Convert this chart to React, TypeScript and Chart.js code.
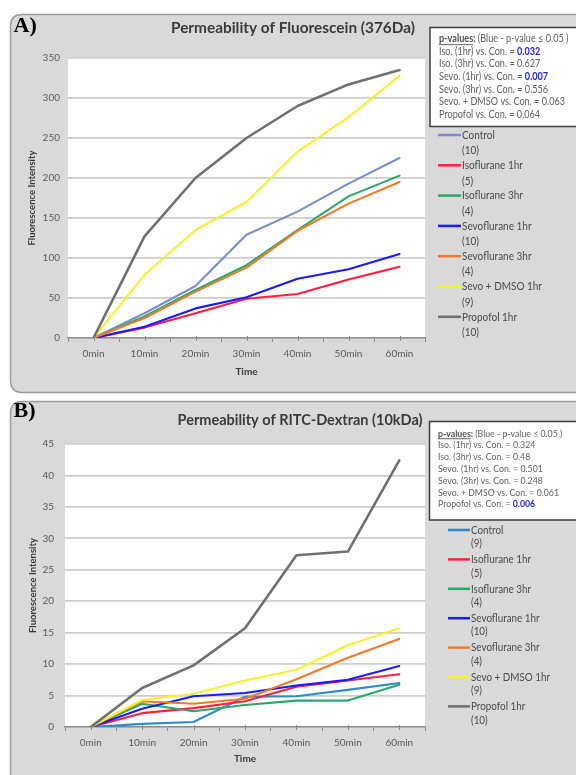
import React, { useEffect, useRef } from 'react';
import { Chart, registerables } from 'chart.js';

Chart.register(...registerables);

const FONT = 'Lato, "Open Sans", "Noto Sans", sans-serif';

// ---------- data ----------
const timeLabels = ['0min', '10min', '20min', '30min', '40min', '50min', '60min'];

const seriesNames = ['Control', 'Isoflurane 1hr', 'Isoflurane 3hr', 'Sevoflurane 1hr', 'Sevoflurane 3hr', 'Sevo + DMSO 1hr', 'Propofol 1hr'];

// Panel A: Fluorescein (376Da)
const fluoControl = [0, 31, 65, 129, 158, 193, 225];
const fluoIso1 = [0, 13, 31, 49, 55, 73, 89];
const fluoIso3 = [0, 27, 60, 91, 135, 177, 203];
const fluoSevo1 = [0, 14, 37, 51, 74, 86, 105];
const fluoSevo3 = [0, 25, 58, 88, 134, 168, 195];
const fluoDmso = [0, 79, 135, 170, 233, 276, 328];
const fluoPropofol = [0, 127, 200, 250, 290, 317, 335];
const fluoCounts = ['(10)', '(5)', '(4)', '(10)', '(4)', '(9)', '(10)'];
const fluoPValues = ['0.032', '0.627', '0.007', '0.556', '0.063', '0.064'];
const fluoSignificant = [true, false, true, false, false, false];

// Panel B: RITC-Dextran (10kDa)
const dexControl = [0, 0.5, 0.8, 4.8, 4.9, 5.9, 7.0];
const dexIso1 = [0, 2.2, 3.0, 4.1, 6.4, 7.4, 8.4];
const dexIso3 = [0, 3.7, 2.5, 3.5, 4.2, 4.2, 6.7];
const dexSevo1 = [0, 2.9, 4.9, 5.4, 6.6, 7.5, 9.7];
const dexSevo3 = [0, 4.1, 3.7, 4.5, 7.6, 11.0, 14.0];
const dexDmso = [0, 4.3, 5.3, 7.4, 9.1, 13.0, 15.7];
const dexPropofol = [0, 6.2, 9.8, 15.7, 27.3, 27.9, 42.4];
const dexCounts = ['(9)', '(5)', '(4)', '(10)', '(4)', '(9)', '(10)'];
const dexPValues = ['0.324', '0.48', '0.501', '0.248', '0.061', '0.006'];
const dexSignificant = [false, false, false, false, false, true];

const comparisonLabels = [
  'Iso. (1hr) vs. Con. = ',
  'Iso. (3hr) vs. Con. = ',
  'Sevo. (1hr) vs. Con. = ',
  'Sevo. (3hr) vs. Con. = ',
  'Sevo. + DMSO vs. Con. = ',
  'Propofol vs. Con. = ',
];

const colorsA = ['#7a8fc8', '#ff1f3d', '#2aa86a', '#1a1aff', '#f07a28', '#f2f230', '#707070'];
const colorsB = ['#2f8acb', '#ff1f3d', '#2aa86a', '#1a1aff', '#f07a28', '#f2f230', '#707070'];

// ---------- helpers ----------
function roundRect(ctx: CanvasRenderingContext2D, x: number, y: number, w: number, h: number, r: number) {
  ctx.beginPath();
  ctx.moveTo(x + r, y);
  ctx.lineTo(x + w - r, y);
  ctx.quadraticCurveTo(x + w, y, x + w, y + r);
  ctx.lineTo(x + w, y + h - r);
  ctx.quadraticCurveTo(x + w, y + h, x + w - r, y + h);
  ctx.lineTo(x + r, y + h);
  ctx.quadraticCurveTo(x, y + h, x, y + h - r);
  ctx.lineTo(x, y + r);
  ctx.quadraticCurveTo(x, y, x + r, y);
  ctx.closePath();
}

type Spec = {
  tag: string;
  tagY: number;
  title: string;
  titleX: number;
  titleY: number;
  titleWidth: number;
  panel: { x: number; y: number; w: number; h: number };
  pbox: { x: number; y: number; w: number; h: number; textX: number; firstY: number; step: number; fitWidth: number; size: number };
  pvals: string[];
  sig: boolean[];
  legend: { lineX: number; textX: number; firstY: number; gap: number; step: number; fitWidth: number };
  counts: string[];
  colors: string[];
};

function makeDecor(spec: Spec) {
  return {
    id: 'decor',
    beforeDraw(chart: any) {
      const ctx: CanvasRenderingContext2D = chart.ctx;
      const ca = chart.chartArea;
      ctx.save();
      const p = spec.panel;
      roundRect(ctx, p.x, p.y, p.w, p.h, 12);
      ctx.fillStyle = '#d9d9d9';
      ctx.fill();
      ctx.lineWidth = 1.5;
      ctx.strokeStyle = '#9a9a9a';
      ctx.stroke();
      ctx.fillStyle = '#ffffff';
      ctx.fillRect(ca.left, ca.top, ca.right - ca.left, ca.bottom - ca.top);
      ctx.restore();
    },
    afterDraw(chart: any) {
      const ctx: CanvasRenderingContext2D = chart.ctx;
      const ca = chart.chartArea;
      ctx.save();
      // minor ticks at category centres
      const xs = chart.scales.x;
      ctx.strokeStyle = '#8c8c8c';
      ctx.lineWidth = 1;
      for (let i = 0; i < timeLabels.length; i++) {
        const px = Math.round(xs.getPixelForValue(i)) + 0.5;
        ctx.beginPath();
        ctx.moveTo(px, ca.bottom - 2);
        ctx.lineTo(px, ca.bottom + 3);
        ctx.stroke();
      }
      // panel tag
      ctx.fillStyle = '#000000';
      ctx.font = 'bold 22px "Liberation Serif", "Times New Roman", serif';
      ctx.textAlign = 'left';
      ctx.textBaseline = 'middle';
      ctx.fillText(spec.tag, spec.panel.x + 3, spec.tagY);
      // title (compressed horizontally to reference width)
      ctx.font = `bold 15.5px ${FONT}`;
      const tw = ctx.measureText(spec.title).width;
      ctx.save();
      ctx.translate(spec.titleX, spec.titleY);
      ctx.scale(spec.titleWidth / tw, 1);
      ctx.fillStyle = '#3a3a3a';
      ctx.textAlign = 'center';
      ctx.fillText(spec.title, 0, 0);
      ctx.restore();
      // p-value box
      const b = spec.pbox;
      ctx.fillStyle = '#ffffff';
      ctx.fillRect(b.x, b.y, b.w, b.h);
      ctx.strokeStyle = '#3c3c3c';
      ctx.lineWidth = 1.5;
      ctx.strokeRect(b.x, b.y, b.w, b.h);
      const fs = b.size;
      const normal = `${fs}px ${FONT}`;
      const bold = `bold ${fs}px ${FONT}`;
      ctx.font = normal;
      const sx = b.fitWidth / ctx.measureText('Sevo. + DMSO vs. Con. = 0.063').width;
      ctx.textAlign = 'left';
      ctx.textBaseline = 'middle';
      // header
      ctx.save();
      ctx.translate(b.textX, b.firstY);
      ctx.scale(sx, 1);
      let x = 0;
      ctx.font = bold;
      ctx.fillStyle = '#505050';
      ctx.fillText('p-values:', x, 0);
      const hw = ctx.measureText('p-values').width;
      ctx.fillRect(x, fs * 0.5, hw, 0.9);
      x += ctx.measureText('p-values:').width;
      ctx.font = normal;
      ctx.fillStyle = '#606060';
      ctx.fillText(' (Blue - p-value \u2264 0.05 )', x, 0);
      ctx.restore();
      for (let i = 0; i < comparisonLabels.length; i++) {
        ctx.save();
        ctx.translate(b.textX, b.firstY + (i + 1) * b.step);
        ctx.scale(sx, 1);
        ctx.font = normal;
        ctx.fillStyle = '#606060';
        ctx.fillText(comparisonLabels[i], 0, 0);
        const off = ctx.measureText(comparisonLabels[i]).width;
        if (spec.sig[i]) {
          ctx.font = bold;
          ctx.fillStyle = '#2424d0';
        }
        ctx.fillText(spec.pvals[i], off, 0);
        ctx.restore();
      }
      // legend
      const L = spec.legend;
      ctx.font = `11.5px ${FONT}`;
      const lsx = L.fitWidth / ctx.measureText('Sevo + DMSO 1hr').width;
      for (let i = 0; i < seriesNames.length; i++) {
        const ly = L.firstY + i * L.step;
        ctx.strokeStyle = spec.colors[i];
        ctx.lineWidth = 2.5;
        ctx.beginPath();
        ctx.moveTo(L.lineX, ly);
        ctx.lineTo(L.textX - 1, ly);
        ctx.stroke();
        ctx.save();
        ctx.translate(L.textX, ly);
        ctx.scale(lsx, 1);
        ctx.fillStyle = '#4a4a4a';
        ctx.fillText(seriesNames[i], 0, 0);
        ctx.fillText(spec.counts[i], 0, L.gap);
        ctx.restore();
      }
      ctx.restore();
    },
  };
}

type ChartSpec = {
  height: number;
  values: number[][];
  colors: string[];
  yMax: number;
  yStep: number;
  padTop: number;
  padBottom: number;
  padLeft: number;
  padRight: number;
  yWidth: number;
  xHeight: number;
  yTickPad: number;
  yTitlePad: number;
  xTitlePad: number;
  decor: Spec;
};

function PanelChart({ spec }: { spec: ChartSpec }) {
  const ref = useRef<HTMLCanvasElement | null>(null);
  useEffect(() => {
    if (!ref.current) return;
    const n = spec.values.length;
    const chart = new Chart(ref.current, {
      type: 'line',
      data: {
        labels: timeLabels,
        datasets: spec.values.map((v, i) => ({
          label: seriesNames[i],
          data: v,
          borderColor: spec.colors[i],
          backgroundColor: spec.colors[i],
          borderWidth: i === n - 1 ? 2.6 : 2.1,
          pointRadius: 0,
          tension: 0,
          fill: false,
          order: n - i,
          borderJoinStyle: 'round',
          borderCapStyle: 'round',
        })),
      },
      options: {
        responsive: false,
        animation: false,
        devicePixelRatio: 1,
        events: [],
        layout: { padding: { top: spec.padTop, bottom: spec.padBottom, left: spec.padLeft, right: spec.padRight } },
        plugins: { legend: { display: false }, tooltip: { enabled: false }, title: { display: false } },
        scales: {
          x: {
            offset: true,
            grid: { offset: true, drawOnChartArea: false, drawTicks: true, tickLength: 4, color: '#8c8c8c', lineWidth: 1 },
            border: { display: true, color: '#8c8c8c', width: 1.5 },
            ticks: { color: '#5a5a5a', font: { family: FONT, size: 10 }, padding: 6, maxRotation: 0, autoSkip: false },
            title: { display: true, text: 'Time', color: '#3a3a3a', font: { family: FONT, size: 10, weight: 'bold' }, padding: { top: 0, bottom: spec.xTitlePad } },
            afterFit: (s: any) => { s.height = spec.xHeight; },
          },
          y: {
            min: 0,
            max: spec.yMax,
            ticks: { stepSize: spec.yStep, color: '#5a5a5a', font: { family: FONT, size: 10 }, padding: spec.yTickPad },
            grid: { color: '#cdcdcd', lineWidth: 1.8, drawTicks: false },
            border: { display: false },
            title: { display: true, text: 'Fluorescence Intensity', color: '#3a3a3a', font: { family: FONT, size: 9.5, weight: 'bold' }, padding: { top: spec.yTitlePad, bottom: 0 } },
            afterFit: (s: any) => { s.width = spec.yWidth; },
          },
        },
      } as any,
      plugins: [makeDecor(spec.decor) as any],
    });
    return () => chart.destroy();
  }, [spec]);
  return <canvas ref={ref} width={576} height={spec.height} style={{ display: 'block', width: 576, height: spec.height }} />;
}

const specA: ChartSpec = {
  height: 395,
  values: [fluoControl, fluoIso1, fluoIso3, fluoSevo1, fluoSevo3, fluoDmso, fluoPropofol],
  colors: colorsA,
  yMax: 350,
  yStep: 50,
  padTop: 58,
  padBottom: 13,
  padLeft: 20,
  padRight: 151,
  yWidth: 48,
  xHeight: 44,
  yTickPad: 8,
  yTitlePad: 6.5,
  xTitlePad: 4,
  decor: {
    tag: 'A)',
    tagY: 26,
    title: 'Permeability of Fluorescein (376Da)',
    titleX: 293,
    titleY: 27.5,
    titleWidth: 244,
    panel: { x: 10.5, y: 14.5, w: 590, h: 378 },
    pbox: { x: 430, y: 27.5, w: 160, h: 99, textX: 439, firstY: 39, step: 12.55, fitWidth: 126, size: 10.5 },
    pvals: fluoPValues,
    sig: fluoSignificant,
    legend: { lineX: 438, textX: 462, firstY: 135, gap: 15.5, step: 30.3, fitWidth: 80 },
    counts: fluoCounts,
    colors: colorsA,
  },
};

const specB: ChartSpec = {
  height: 380,
  values: [dexControl, dexIso1, dexIso3, dexSevo1, dexSevo3, dexDmso, dexPropofol],
  colors: colorsB,
  yMax: 45,
  yStep: 5,
  padTop: 49,
  padBottom: 4,
  padLeft: 20,
  padRight: 151,
  yWidth: 45,
  xHeight: 44,
  yTickPad: 11,
  yTitlePad: 7,
  xTitlePad: 6,
  decor: {
    tag: 'B)',
    tagY: 16.5,
    title: 'Permeability of RITC-Dextran (10kDa)',
    titleX: 300,
    titleY: 25,
    titleWidth: 245,
    panel: { x: 10.5, y: 6.5, w: 590, h: 400 },
    pbox: { x: 429.5, y: 26.5, w: 160, h: 98.5, textX: 438, firstY: 38.3, step: 11.8, fitWidth: 121, size: 10 },
    pvals: dexPValues,
    sig: dexSignificant,
    legend: { lineX: 448, textX: 471, firstY: 135, gap: 13.5, step: 29.4, fitWidth: 79 },
    counts: dexCounts,
    colors: colorsB,
  },
};

export default function App() {
  return (
    <div style={{ position: 'absolute', left: 0, top: 0, width: 576, height: 775, background: '#ffffff', overflow: 'hidden' }}>
      <PanelChart spec={specA} />
      <PanelChart spec={specB} />
    </div>
  );
}
